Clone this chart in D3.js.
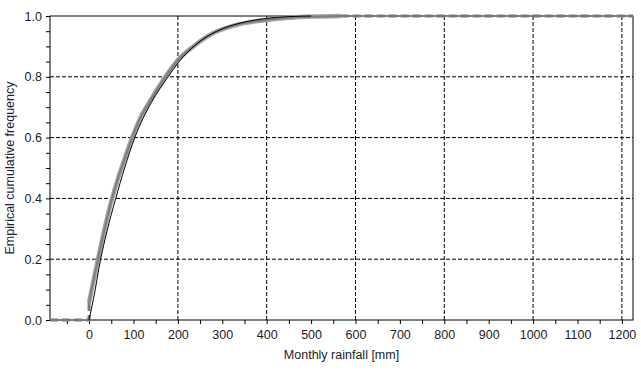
<!DOCTYPE html>
<html>
<head>
<meta charset="utf-8">
<script src="https://cdn.jsdelivr.net/npm/d3@7"></script>
<style>
body { margin: 0; background: #fff; }
text { font-family: "Liberation Sans", Arial, sans-serif; }
</style>
</head>
<body>
<div id="chart-area"></div>
<script>
// empirical curves (gray band)
var grayX = [0, 5, 10, 20, 35, 50, 65, 80, 97, 114, 140, 172, 200, 235, 279, 330, 400, 450, 505, 567];
var grayY = [0.056, 0.095, 0.13, 0.2, 0.3, 0.39, 0.465, 0.53, 0.6, 0.66, 0.727, 0.8, 0.855, 0.9, 0.943, 0.97, 0.987, 0.994, 0.998, 1.0];
// fitted curve (thin black)
var blackX = [0, 5, 10, 26, 40, 60, 80, 103, 140, 178, 200, 250, 300, 350, 400, 450, 500];
var blackY = [0, 0.035, 0.07, 0.2, 0.29, 0.4, 0.5, 0.6, 0.715, 0.8, 0.845, 0.917, 0.958, 0.98, 0.992, 0.998, 1.0];
// dashed tails of the empirical curve
var lowTailX = [-88, 0, 0];
var lowTailY = [0, 0, 0.056];
var highTailX = [567, 1225];
var highTailY = [1, 1];

var xTicks = [0, 100, 200, 300, 400, 500, 600, 700, 800, 900, 1000, 1100, 1200];
var xGrid = [200, 400, 600, 800, 1000, 1200];
var yTicks = [0, 0.2, 0.4, 0.6, 0.8, 1.0];
var yGrid = [0.2, 0.4, 0.6, 0.8];

var W = 641, H = 373;
var margin = {top: 16, right: 8, bottom: 53, left: 50};
var w = W - margin.left - margin.right;
var h = H - margin.top - margin.bottom;

var svg = d3.select("#chart-area").append("svg")
	.attr("width", W)
	.attr("height", H);

var g = svg.append("g")
	.attr("transform", "translate(" + margin.left + "," + margin.top + ")");

var x = d3.scaleLinear().domain([-88, 1225]).range([0, w]);
var y = d3.scaleLinear().domain([0, 1]).range([h, 0]);

// grid
g.selectAll(".xgrid").data(xGrid).enter().append("line")
	.attr("x1", function(d){ return x(d); })
	.attr("x2", function(d){ return x(d); })
	.attr("y1", 0).attr("y2", h)
	.attr("stroke", "#000").attr("stroke-width", 1)
	.attr("stroke-dasharray", "4,2");
g.selectAll(".ygrid").data(yGrid).enter().append("line")
	.attr("y1", function(d){ return y(d); })
	.attr("y2", function(d){ return y(d); })
	.attr("x1", 0).attr("x2", w)
	.attr("stroke", "#000").attr("stroke-width", 1)
	.attr("stroke-dasharray", "4,2");

// axes
var xAxis = d3.axisBottom(x)
	.tickValues(d3.range(-50, 1226, 50))
	.tickSize(4)
	.tickFormat(function(d){ return xTicks.indexOf(d) >= 0 ? d : ""; });
var yAxis = d3.axisLeft(y)
	.tickValues(d3.range(0, 1.0001, 0.05))
	.tickSize(4)
	.tickFormat(function(d){
		var hit = yTicks.filter(function(t){ return Math.abs(t - d) < 1e-6; });
		return hit.length ? d3.format(".1f")(d) : "";
	});

var gx = g.append("g").attr("transform", "translate(0," + h + ")").call(xAxis);
var gy = g.append("g").call(yAxis);
[gx, gy].forEach(function(a){
	a.select(".domain").remove();
	a.selectAll("line").attr("stroke", "#000");
	a.selectAll("text").attr("fill", "#1c1c24").style("font-size", "12.5px");
});
gx.selectAll("text").attr("dy", "0.95em");
gy.selectAll("text").attr("x", -8);

// frame
g.append("rect")
	.attr("x", 0).attr("y", 0).attr("width", w).attr("height", h)
	.attr("fill", "none").attr("stroke", "#000").attr("stroke-width", 1);

// curves
function pts(xs, ys){ return xs.map(function(v, i){ return [v, ys[i]]; }); }
var line = d3.line()
	.x(function(d){ return x(d[0]); })
	.y(function(d){ return y(d[1]); })
	.curve(d3.curveMonotoneX);
var straight = d3.line()
	.x(function(d){ return x(d[0]); })
	.y(function(d){ return y(d[1]); });

g.append("path").datum(pts(lowTailX, lowTailY)).attr("d", straight)
	.attr("fill", "none").attr("stroke", "#7a7a7a").attr("stroke-width", 3)
	.attr("stroke-dasharray", "8,4");
g.append("path").datum(pts(highTailX, highTailY)).attr("d", straight)
	.attr("fill", "none").attr("stroke", "#7a7a7a").attr("stroke-width", 3)
	.attr("stroke-dasharray", "8,4");

g.append("path").datum(pts(grayX, grayY)).attr("d", line)
	.attr("fill", "none").attr("stroke", "#a4a4a4").attr("stroke-width", 4.5);
g.append("path").datum(pts(grayX, grayY)).attr("d", line)
	.attr("fill", "none").attr("stroke", "#7e7e7e").attr("stroke-width", 2);

g.append("path").datum(pts(blackX, blackY)).attr("d", line)
	.attr("fill", "none").attr("stroke", "#000").attr("stroke-width", 1);

// titles
svg.append("text")
	.attr("x", margin.left + w / 2).attr("y", 359)
	.attr("text-anchor", "middle")
	.attr("fill", "#1c1c24").style("font-size", "12.5px")
	.text("Monthly rainfall [mm]");
svg.append("text")
	.attr("transform", "translate(14," + (margin.top + h / 2) + ") rotate(-90)")
	.attr("text-anchor", "middle")
	.attr("fill", "#1c1c3a").style("font-size", "12.5px")
	.text("Empirical cumulative frequency");
</script>
</body>
</html>
